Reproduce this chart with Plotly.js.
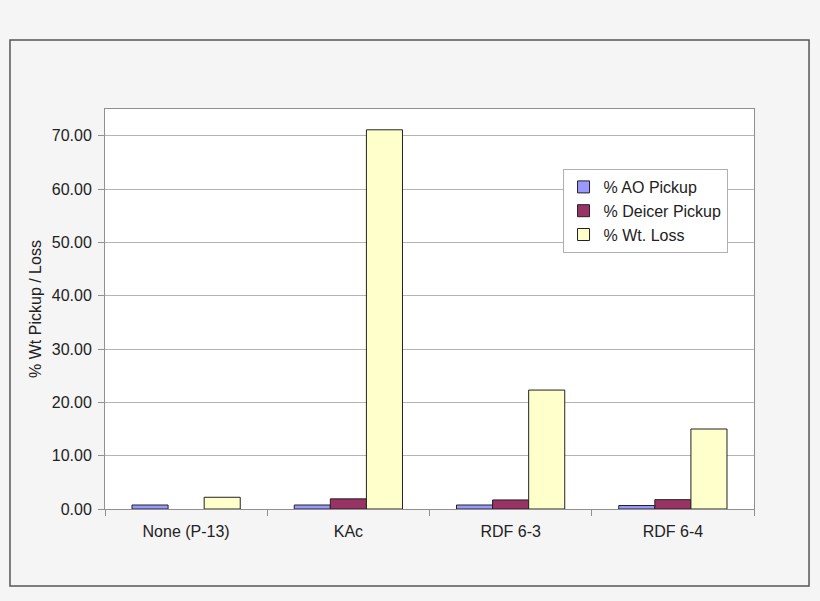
<!DOCTYPE html>
<html>
<head>
<meta charset="utf-8">
<script src="https://cdn.plot.ly/plotly-3.0.1.min.js"></script>
<style>html,body{margin:0;padding:0;background:#f5f5f5;}</style>
</head>
<body>
<div id="chart" style="width:820px;height:601px;"></div>
<script>
const categories = ["None (P-13)", "KAc", "RDF 6-3", "RDF 6-4"];
const aoPickup = [0.75, 0.75, 0.75, 0.65];
const deicerPickup = [null, 1.9, 1.7, 1.75];
const wtLoss = [2.2, 71.1, 22.3, 15.0];
const seriesNames = ["% AO Pickup", "% Deicer Pickup", "% Wt. Loss"];
const yTicks = [0, 10, 20, 30, 40, 50, 60, 70];

const colors = ["#9999ff", "#993366", "#ffffcc"];
const series = [aoPickup, deicerPickup, wtLoss];
const data = series.map((vals, i) => ({
  type: "bar",
  x: categories,
  y: vals,
  name: seriesNames[i],
  marker: {color: colors[i], line: {color: "#222222", width: 1}},
  hoverinfo: "x+y+name"
}));

const font = {family: "Liberation Sans, Arial, sans-serif", size: 16, color: "#222222"};

const layout = {
  width: 820, height: 601,
  paper_bgcolor: "#f5f5f5",
  plot_bgcolor: "#ffffff",
  font: font,
  margin: {l: 105, r: 66, t: 109, b: 92},
  barmode: "group",
  bargap: 0.333,
  bargroupgap: 0,
  showlegend: true,
  legend: {
    x: 0.705, y: 0.85, xanchor: "left", yanchor: "top",
    bgcolor: "#ffffff", bordercolor: "#b0b0b0", borderwidth: 1,
    font: {family: "Liberation Sans, Arial, sans-serif", size: 16, color: "#222222"},
    itemwidth: 30, tracegroupgap: 0
  },
  xaxis: {
    type: "category",
    tickson: "boundaries",
    ticks: "outside", ticklen: 6, tickcolor: "#909090",
    ticklabelstandoff: 8,
    showline: true, linecolor: "#909090", linewidth: 1, mirror: true,
    showgrid: false, zeroline: false,
    tickfont: font
  },
  yaxis: {
    range: [0, 75],
    tickvals: yTicks,
    tickformat: ".2f",
    ticks: "outside", ticklen: 6, tickcolor: "#909090",
    ticklabelstandoff: 3,
    showline: true, linecolor: "#909090", linewidth: 1, mirror: true,
    showgrid: true, gridcolor: "#b4b4b4", gridwidth: 1,
    zeroline: false,
    tickfont: font,
    title: {text: "% Wt Pickup / Loss", font: {family: "Liberation Sans, Arial, sans-serif", size: 16, color: "#222222"}, standoff: 6}
  },
  shapes: [{
    type: "rect", xref: "paper", yref: "paper",
    x0: -0.1464, x1: 1.0848, y0: -0.1925, y1: 1.1725,
    line: {color: "#555555", width: 1.5}, fillcolor: "rgba(0,0,0,0)", layer: "below"
  }]
};

Plotly.newPlot("chart", data, layout, {displayModeBar: false, staticPlot: true});
</script>
</body>
</html>
